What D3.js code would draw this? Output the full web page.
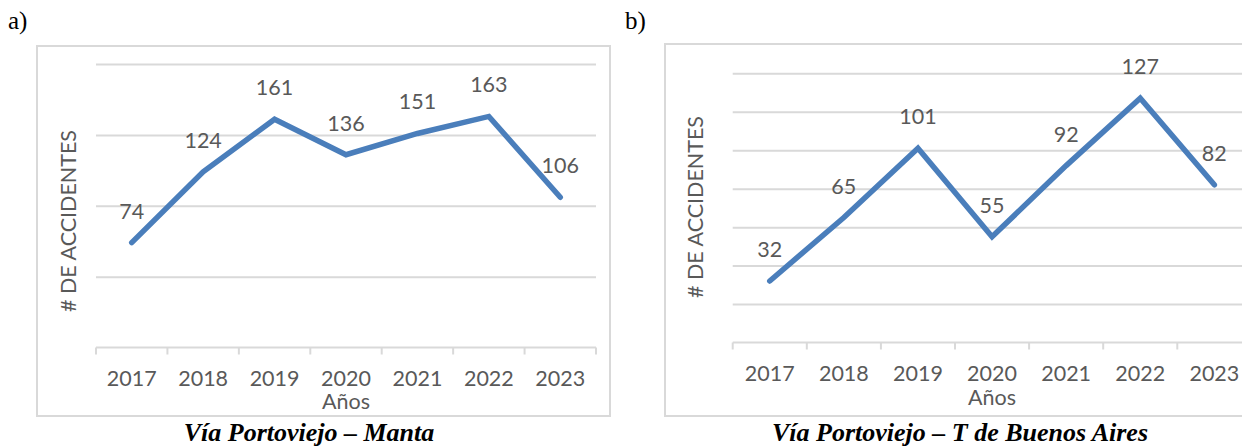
<!DOCTYPE html>
<html>
<head>
<meta charset="utf-8">
<script src="https://cdn.jsdelivr.net/npm/d3@7"></script>
<style>
  html, body { margin: 0; padding: 0; background: #fff; }
  svg { display: block; }
</style>
</head>
<body>
<svg id="chart" width="1242" height="446"></svg>
<script>
// Road accidents per year on two roads around Portoviejo
const years = ["2017", "2018", "2019", "2020", "2021", "2022", "2023"];
const mantaCounts = [74, 124, 161, 136, 151, 163, 106];
const buenosAiresCounts = [32, 65, 101, 55, 92, 127, 82];
const mantaTicks = [0, 50, 100, 150, 200];
const buenosAiresTicks = [0, 20, 40, 60, 80, 100, 120, 140];
const panelLetters = ["a)", "b)"];
const captions = ["Vía Portoviejo – Manta", "Vía Portoviejo – T de Buenos Aires"];
const yAxisTitle = "# DE ACCIDENTES";
const xAxisTitle = "Años";

const TEXT = "#595959";
const GRID = "#d9d9d9";
const LINE = "#4a7ebb";
const SANS = "Lato, 'Open Sans', sans-serif";
const SERIF = "'Liberation Serif', 'Times New Roman', serif";

const panels = [
  {
    counts: mantaCounts, ticks: mantaTicks, letter: panelLetters[0], caption: captions[0],
    frame: { x: 37, y: 46, w: 573, h: 370 },
    plot: { x0: 96, x1: 596, top: 64, bottom: 347.5 },
    yTitle: { cx: 68, cy: 221 },
    letterPos: { x: 8, y: 29 },
    captionX: 309,
    xTitleGap: 61.5
  },
  {
    counts: buenosAiresCounts, ticks: buenosAiresTicks, letter: panelLetters[1], caption: captions[1],
    frame: { x: 665, y: 44, w: 600, h: 372 },
    plot: { x0: 732.7, x1: 1251.4, top: 73.3, bottom: 342.5 },
    yTitle: { cx: 695, cy: 207 },
    letterPos: { x: 625, y: 29 },
    captionX: 960,
    xTitleGap: 62.5
  }
];

const svg = d3.select("#chart");
svg.append("rect").attr("width", 1242).attr("height", 446).attr("fill", "#fff");

panels.forEach(p => {
  const g = svg.append("g");

  // chart frame
  g.append("rect")
    .attr("x", p.frame.x).attr("y", p.frame.y)
    .attr("width", p.frame.w).attr("height", p.frame.h)
    .attr("fill", "#fff").attr("stroke", GRID).attr("stroke-width", 2);

  const x = d3.scaleBand().domain(years).range([p.plot.x0, p.plot.x1]).paddingInner(0).paddingOuter(0);
  const y = d3.scaleLinear()
    .domain([0, p.ticks[p.ticks.length - 1]])
    .range([p.plot.bottom, p.plot.top]);

  // horizontal gridlines
  const grid = g.append("g")
    .attr("transform", `translate(${p.plot.x0},0)`)
    .call(d3.axisLeft(y).tickValues(p.ticks.slice(1))
      .tickSize(-(p.plot.x1 - p.plot.x0)).tickFormat(""));
  grid.select(".domain").remove();
  grid.selectAll(".tick line").attr("stroke", GRID).attr("stroke-width", 2);

  // category axis: baseline, boundary tick marks and year labels
  const xAxis = g.append("g")
    .attr("transform", `translate(0,${p.plot.bottom})`)
    .call(d3.axisBottom(x).tickSize(0));
  xAxis.select(".domain").remove();
  xAxis.selectAll(".tick text")
    .attr("y", 38).attr("dy", null)
    .attr("fill", TEXT)
    .style("font-family", SANS).style("font-size", "21.5px");

  const bounds = years.map(d => x(d)).concat([p.plot.x1]);
  xAxis.append("line")
    .attr("x1", p.plot.x0).attr("x2", p.plot.x1)
    .attr("stroke", GRID).attr("stroke-width", 2);
  xAxis.selectAll(".bound").data(bounds).join("line")
    .attr("class", "bound")
    .attr("x1", d => d).attr("x2", d => d)
    .attr("y1", 0).attr("y2", 7)
    .attr("stroke", GRID).attr("stroke-width", 2);

  // axis titles
  g.append("text")
    .attr("x", (p.plot.x0 + p.plot.x1) / 2)
    .attr("y", p.plot.bottom + p.xTitleGap)
    .attr("text-anchor", "middle")
    .attr("fill", TEXT)
    .style("font-family", SANS).style("font-size", "21.5px")
    .text(xAxisTitle);

  g.append("text")
    .attr("transform", `translate(${p.yTitle.cx + 7.7},${p.yTitle.cy}) rotate(-90)`)
    .attr("text-anchor", "middle")
    .attr("fill", TEXT)
    .style("font-family", SANS).style("font-size", "21.5px")
    .text(yAxisTitle);

  // series line
  const pts = years.map((d, i) => ({ year: d, value: p.counts[i] }));
  const line = d3.line()
    .x(d => x(d.year) + x.bandwidth() / 2)
    .y(d => y(d.value));
  g.append("path")
    .datum(pts)
    .attr("d", line)
    .attr("fill", "none")
    .attr("stroke", LINE)
    .attr("stroke-width", 5.5)
    .attr("stroke-linecap", "round")
    .attr("stroke-linejoin", "miter");

  // value labels above each point
  g.selectAll(".val").data(pts).join("text")
    .attr("class", "val")
    .attr("x", d => x(d.year) + x.bandwidth() / 2)
    .attr("y", d => y(d.value) - 24)
    .attr("text-anchor", "middle")
    .attr("fill", TEXT)
    .style("font-family", SANS).style("font-size", "21.5px")
    .text(d => d.value);

  // panel letter and caption
  svg.append("text")
    .attr("x", p.letterPos.x).attr("y", p.letterPos.y)
    .attr("fill", "#000")
    .style("font-family", SERIF).style("font-size", "25px")
    .text(p.letter);

  svg.append("text")
    .attr("x", p.captionX).attr("y", 441)
    .attr("text-anchor", "middle")
    .attr("fill", "#000")
    .style("font-family", SERIF).style("font-size", "26px")
    .style("font-weight", "bold").style("font-style", "italic")
    .text(p.caption);
});
</script>
</body>
</html>
